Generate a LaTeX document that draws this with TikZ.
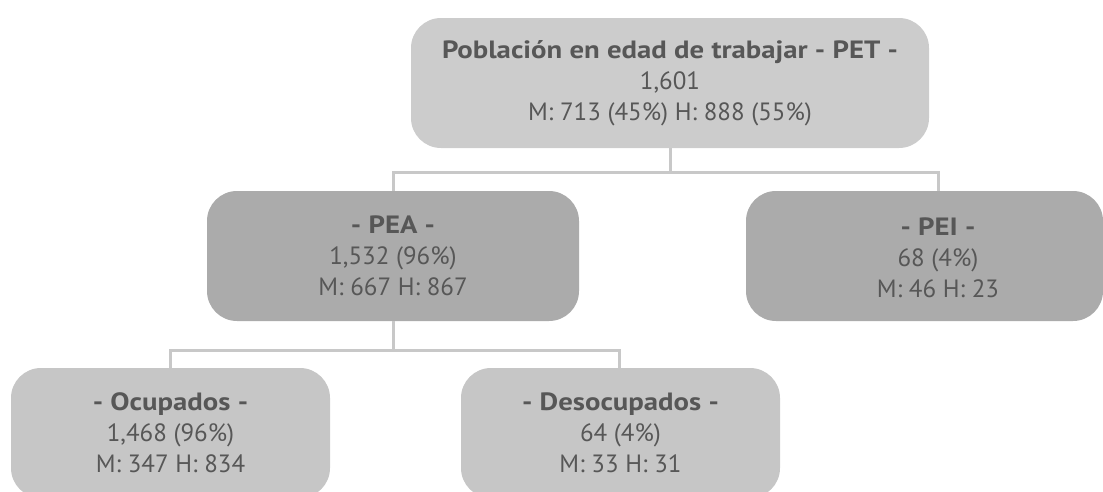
\documentclass[tikz,border=0pt]{standalone}
\usepackage{fontspec}
\setmainfont{PT Sans}[BoldFeatures={FakeStretch=1.15}]
\definecolor{topfill}{HTML}{CCCCCC}
\definecolor{midfill}{HTML}{ABABAB}
\definecolor{lowfill}{HTML}{C6C6C6}
\definecolor{linec}{HTML}{C8C8C8}
\definecolor{txt}{HTML}{575757}
\begin{document}
\begin{tikzpicture}[x=1pt,y=-1pt,
  box/.style={rounded corners=30pt, inner sep=0pt, align=center, text=txt,
    font=\fontsize{25}{31}\selectfont, minimum height=130pt},
  lbl/.style={align=center, text=txt, inner sep=0pt, font=\fontsize{25}{31}\selectfont},
  link/.style={draw=linec, line width=3pt}]
\useasboundingbox (0,0) rectangle (1103,491);
\clip (0,0) rectangle (1103,491);
% boxes
\node[box, fill=topfill, minimum width=518pt] (pet) at (670,83)
  {\textbf{Población en edad de trabajar - PET -}\\1,601\\M: 713 (45\%) H: 888 (55\%)};
\node[box, fill=midfill, minimum width=372pt] (pea) at (393,256)
  {\textbf{- PEA -}\\1,532 (96\%)\\M: 667 H: 867};
\node[box, fill=midfill, minimum width=357pt] (pei) at (924.5,256) {};
\node[lbl] (peitxt) at (938,258) {\textbf{- PEI -}\\68 (4\%)\\M: 46 H: 23};
\node[box, fill=lowfill, minimum width=319pt] (ocu) at (170.5,433)
  {\textbf{- Ocupados -}\\1,468 (96\%)\\M: 347 H: 834};
\node[box, fill=lowfill, minimum width=319pt] (deso) at (620.5,433)
  {\textbf{- Desocupados -}\\64 (4\%)\\M: 33 H: 31};
% connectors
\coordinate (j1) at (670,172);
\coordinate (j2) at (393,350);
\draw[link] (pet.south) -- (j1);
\draw[link] (j1) -| (peitxt.north |- pei.north);
\draw[link] (j1) -| (pea.north);
\draw[link] (pea.south) -- (j2);
\draw[link] (j2) -| (ocu.north);
\draw[link] (j2) -| (deso.north -| 619,0);
\end{tikzpicture}
\end{document}
